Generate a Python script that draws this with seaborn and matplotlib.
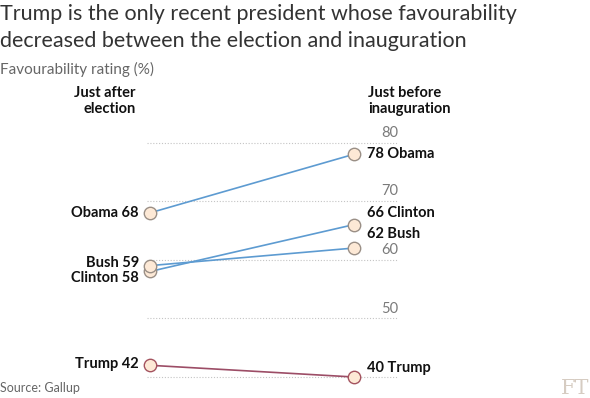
import pandas as pd
from matplotlib import pyplot as plt
import seaborn as sns

# data
presidents = ['Obama', 'Clinton', 'Bush', 'Trump']
after_election = [68, 58, 59, 42]
before_inauguration = [78, 66, 62, 40]
grid_values = [40, 50, 60, 70, 80]
tick_labels = ['', '50', '60', '70', '80']

line_colours = {'Obama': '#5d9bd1', 'Clinton': '#5d9bd1', 'Bush': '#5d9bd1', 'Trump': '#9c4d66'}
edge_colours = {'Obama': '#9a8f86', 'Clinton': '#9a8f86', 'Bush': '#9a8f86', 'Trump': '#a4535f'}
fill_colour = '#fde9d6'

# label offsets in points (left side, right side) so names don't collide
left_dy = {'Obama': 0, 'Clinton': -5, 'Bush': 2, 'Trump': 1}
right_dy = {'Obama': 0, 'Clinton': 8, 'Bush': 10, 'Trump': 6.5}

df = pd.DataFrame({
    'president': presidents * 2,
    'period': [0] * len(presidents) + [1] * len(presidents),
    'rating': after_election + before_inauguration,
})

sns.set_theme(style='white')
plt.rcParams['font.family'] = ['Lato', 'DejaVu Sans']

W, H = 590, 398
fig = plt.figure(figsize=(W / 100, H / 100), dpi=100)
fig.patch.set_facecolor('white')

ax = fig.add_axes([147 / W, 0.00854, 251 / W, 0.6776])
ax.set_xlim(-3 / 204, 248 / 204)
ax.set_ylim(37, 83)

sns.lineplot(data=df, x='period', y='rating', hue='president', palette=line_colours,
             legend=False, ax=ax, lw=1.2, zorder=2)

for p in presidents:
    sub = df[df['president'] == p]
    sns.scatterplot(data=sub, x='period', y='rating', color=fill_colour,
                    edgecolor=edge_colours[p], linewidth=1.0, s=80, ax=ax,
                    zorder=3, clip_on=False, legend=False)

# grid
ax.set_xticks([])
ax.set_yticks(grid_values)
ax.tick_params(left=False, labelleft=False, bottom=False, labelbottom=False)
ax.grid(axis='y', linestyle=(0, (1, 1.6)), color='#c4c4c4', lw=0.8)
ax.grid(axis='x', visible=False)
for s in ax.spines.values():
    s.set_visible(False)
ax.set_xlabel('')
ax.set_ylabel('')
ax.patch.set_alpha(0)

for v, lab in zip(grid_values, tick_labels):
    if lab:
        ax.annotate(lab, (1, v), xycoords=('axes fraction', 'data'), xytext=(0, 7),
                    textcoords='offset points', ha='right', va='center',
                    fontsize=10.5, color='#7a7a7a')

# point labels
for p, a, b in zip(presidents, after_election, before_inauguration):
    ax.annotate(f'{p} {a}', (0, a), xytext=(-8, left_dy[p]), textcoords='offset points',
                ha='right', va='center', fontsize=10.5, fontweight='bold', color='#111111')
    ax.annotate(f'{b} {p}', (1, b), xytext=(9.5, right_dy[p]), textcoords='offset points',
                ha='left', va='center', fontsize=10.5, fontweight='bold', color='#111111')

# titles and headers (positions in pixels from top-left)
def ftext(x, y, s, **kw):
    fig.text(x / W, 1 - y / H, s, **kw)

ftext(0, 20, 'Trump is the only recent president whose favourability',
      fontsize=15.5, color='#333333', va='baseline')
ftext(0, 47, 'decreased between the election and inauguration',
      fontsize=15.5, color='#333333', va='baseline')
ftext(0, 74, 'Favourability rating (%)', fontsize=11, color='#666666', va='baseline')

ftext(136, 97, 'Just after', fontsize=10.5, fontweight='bold', color='#111111',
      ha='right', va='baseline')
ftext(136, 113, 'election', fontsize=10.5, fontweight='bold', color='#111111',
      ha='right', va='baseline')
ftext(368, 97, 'Just before', fontsize=10.5, fontweight='bold', color='#111111',
      ha='left', va='baseline')
ftext(368, 113, 'inauguration', fontsize=10.5, fontweight='bold', color='#111111',
      ha='left', va='baseline')

ftext(0, 392, 'Source: Gallup', fontsize=9, color='#666666', va='baseline')
ftext(589, 394, 'FT', fontsize=15, color='#d6ccc2', ha='right', va='baseline',
      family='DejaVu Serif')

fig.savefig('out.png', dpi=100)
